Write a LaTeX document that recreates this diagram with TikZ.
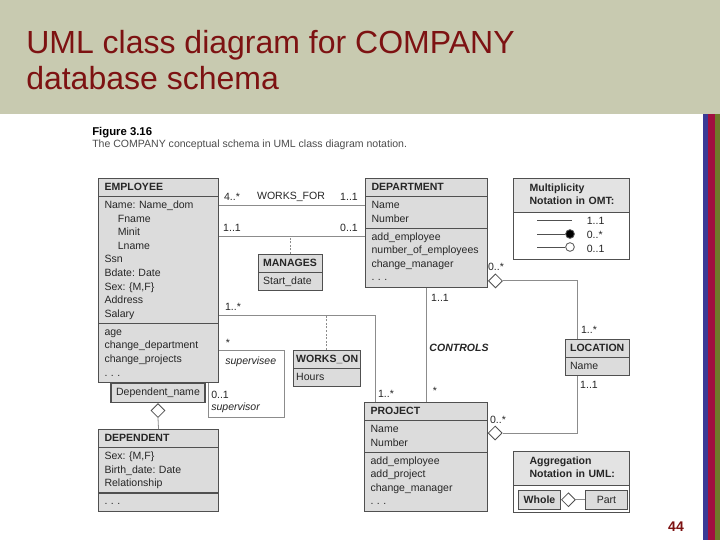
\documentclass[tikz,border=0pt]{standalone}
\usepackage{fontspec}
\setmainfont{Liberation Sans}
\usetikzlibrary{shapes.multipart,shapes.geometric,calc}
\frenchspacing

\definecolor{lista}{RGB}{200,202,176}
\definecolor{nadpis}{RGB}{125,18,18}
\definecolor{sedabox}{RGB}{220,220,220}
\definecolor{ramka}{RGB}{80,80,80}
\definecolor{cara}{RGB}{140,140,140}
\definecolor{pruhA}{RGB}{58,58,150}
\definecolor{pruhB}{RGB}{160,16,64}
\definecolor{pruhC}{RGB}{110,122,42}

\begin{document}
\begin{tikzpicture}[x=0.75pt, y=-0.75pt,
		trida/.style={rectangle split, rectangle split parts=3, draw=ramka, fill=sedabox, line width=0.8pt, inner xsep=4.5pt, inner ysep=1.3pt, align=left, anchor=north west, text=black!85, font=\fontsize{7.9}{10.2}\selectfont},
		malatrida/.style={trida, rectangle split parts=2, inner xsep=3.4pt},
		legenda/.style={rectangle split, rectangle split parts=2, draw=ramka, line width=0.8pt, rectangle split part fill={sedabox!80!white,white}, inner xsep=6pt, inner ysep=2pt, text width=75pt, align=left, anchor=north west, text=black!85, font=\fontsize{7.9}{10.2}\selectfont},
		kvalif/.style={draw=ramka, fill=sedabox, line width=0.8pt, inner sep=0pt, minimum width=70.5pt, minimum height=14.25pt, anchor=north, text=black!85, font=\fontsize{7.9}{10.2}\selectfont},
		kosoctverec/.style={diamond, draw=ramka, fill=white, line width=0.6pt, inner sep=0pt, minimum width=10.5pt, minimum height=10.5pt},
		bod/.style={circle, draw=ramka, line width=0.6pt, inner sep=0pt, minimum size=6.5pt},
		spoj/.style={draw=cara, line width=0.6pt},
		carky/.style={dash pattern=on 1.5pt off 1.2pt},
		popis/.style={inner sep=0pt, text=black!85, font=\fontsize{7.9}{10.2}\selectfont}]
		\useasboundingbox (0,0) rectangle (720,540);
		\fill[white] (0,0) rectangle (720,540);
		\fill[lista] (0,0) rectangle (720,114);
		\fill[pruhA] (703,114) rectangle (708,540);
		\fill[pruhB] (708,114) rectangle (715,540);
		\fill[pruhC] (715,114) rectangle (720,540);

		\node[anchor=north west, align=left, inner sep=0pt, text=nadpis, font=\fontsize{24}{27}\selectfont] (nadpis) at (26,30) {UML class diagram for COMPANY\\database schema};
		\node[anchor=base west, inner sep=0pt, font=\fontsize{8.5}{10}\selectfont\bfseries] (obr) at (92,135) {Figure 3.16};
		\node[anchor=base west, inner sep=0pt, text=black!70, font=\fontsize{7.9}{10}\selectfont] (obrpopis) at (92,147) {The COMPANY conceptual schema in UML class diagram notation.};
		\node[inner sep=0pt, text=nadpis, font=\fontsize{10.5}{12}\selectfont\bfseries] (strana) at (676,527) {44};

		\node[trida, text width=81pt] (emp) at (98,178) {\strut\textbf{EMPLOYEE}
			\nodepart{two}\strut Name: Name\_dom\\ \hspace*{10pt}Fname\\ \hspace*{10pt}Minit\\ \hspace*{10pt}Lname\\ Ssn\\ Bdate: Date\\ Sex: \{M,F\}\\ Address\\ Salary\strut
			\nodepart{three}\strut age\\ change\_department\\ change\_projects\\ . . .\strut};
		\node[trida, text width=82.5pt] (dept) at (365,178) {\strut\textbf{DEPARTMENT}
			\nodepart{two}\strut Name\\ Number\strut
			\nodepart{three}\strut add\_employee\\ number\_of\_employees\\ change\_manager\\ . . .\strut};
		\node[trida, text width=83pt] (proj) at (364,402) {\strut\textbf{PROJECT}
			\nodepart{two}\strut Name\\ Number\strut
			\nodepart{three}\strut add\_employee\\ add\_project\\ change\_manager\\ . . .\strut};
		\node[trida, text width=81pt] (dep) at (98,429) {\strut\textbf{DEPENDENT}
			\nodepart{two}\strut Sex: \{M,F\}\\ Birth\_date: Date\\ Relationship\strut
			\nodepart{three}\strut . . .};
		\node[malatrida, text width=41pt] (man) at (258,254) {\strut\textbf{MANAGES}\nodepart{two}\strut Start\_date};
		\node[malatrida, inner xsep=2pt, text width=46pt] (won) at (293,350) {\strut\textbf{WORKS\_ON}\nodepart{two}\strut Hours};
		\node[malatrida, text width=41.2pt] (loc) at (565,339) {\strut\textbf{LOCATION}\nodepart{two}\strut Name};

		\node[kvalif] (kval) at ($(emp.south west)+(60,0)$) {Dependent\_name};
		\node[kosoctverec, anchor=north] (kdep) at (kval.south) {};
		\node[kosoctverec, anchor=west] (kdept) at ($(dept.south east)+(0,-7)$) {};
		\node[kosoctverec, anchor=west] (kproj) at ($(proj.north east)+(0,31)$) {};

		\coordinate (wfzac) at ($(emp.north east)+(0,27)$);
		\coordinate (manzac) at ($(emp.north east)+(0,58)$);
		\coordinate (wonzac) at ($(emp.north east)+(0,137)$);
		\coordinate (supzac) at ($(emp.north east)+(0,172)$);
		\coordinate (lochore) at ($(loc.north west)+(12,0)$);
		\coordinate (locdole) at ($(loc.south west)+(12,0)$);

		\draw[spoj] (wfzac) -- (wfzac -| dept.west);
		\draw[spoj] (manzac) -- (manzac -| dept.west);
		\draw[spoj, carky] (man.north) -- (man.north |- manzac);
		\draw[spoj] (kdep.south) -- (dep.north);
		\draw[spoj] ($(dept.south west)+(61,0)$) -- ($(proj.north west)+(62,0)$);
		\draw[spoj] (kdept.east) -| (lochore);
		\draw[spoj] (locdole) |- (kproj.east);
		\draw[spoj] (wonzac) -| ($(proj.north west)+(11,0)$);
		\draw[spoj, carky] (won.north) -- (won.north |- wonzac);
		\draw[spoj] (supzac) -| ($(emp.south west)+(186,34)$) -| ($(emp.south west)+(110,0)$);

		\node[popis] (wfa) at (232,197) {4..*};
		\node[popis] (wfn) at (291,197) {WORKS\_FOR};
		\node[popis] (wfb) at (349,197) {1..1};
		\node[popis] (mana) at (232,228) {1..1};
		\node[popis] (manb) at (349,228) {0..1};
		\node[popis] (kdepta) at (496,267) {0..*};
		\node[popis] (ctla) at (440,298) {1..1};
		\node[popis, font=\fontsize{7.9}{10.2}\selectfont\bfseries\itshape] (ctl) at (459,348) {CONTROLS};
		\node[popis] (ctlb) at (435,391) {*};
		\node[popis] (loca) at (589,330) {1..*};
		\node[popis] (locb) at (589,385) {1..1};
		\node[popis] (kproja) at (498,420) {0..*};
		\node[popis] (wona) at (233,307) {1..*};
		\node[popis] (wonb) at (386,394) {1..*};
		\node[popis] (supa) at (228,343) {*};
		\node[popis, anchor=west, font=\fontsize{7.9}{10.2}\selectfont\itshape] (supb) at (225,362) {supervisee};
		\node[popis, anchor=west] (supc) at (211,395) {0..1};
		\node[popis, anchor=west, font=\fontsize{7.9}{10.2}\selectfont\itshape] (supd) at (211,408) {supervisor};

		\node[legenda] (omt) at (513,178) {\strut\hspace*{6pt}\textbf{Multiplicity}\\ \hspace*{6pt}\textbf{Notation in OMT:}\strut
			\nodepart{two}\strut\hspace*{49pt}1..1\\ \hspace*{49pt}0..*\\ \hspace*{49pt}0..1\strut};
		\coordinate (omta) at ($(omt.north west)+(24,42)$);
		\coordinate (omtb) at ($(omt.north west)+(59,42)$);
		\node[bod, fill=black] (plny) at ($(omt.north west)+(57,56)$) {};
		\node[bod, fill=white] (prazdny) at ($(omt.north west)+(57,69)$) {};
		\draw[ramka, line width=0.6pt] (omta) -- (omtb);
		\draw[ramka, line width=0.6pt] (plny.west -| omta) -- (plny.west);
		\draw[ramka, line width=0.6pt] (prazdny.west -| omta) -- (prazdny.west);

		\node[legenda] (agg) at (513,451) {\strut\hspace*{6pt}\textbf{Aggregation}\\ \hspace*{6pt}\textbf{Notation in UML:}\strut
			\nodepart{two}\rule{0pt}{15.5pt}};
		\node[kvalif, anchor=west, minimum width=31.5pt, font=\fontsize{7.9}{10.2}\selectfont\bfseries] (celek) at ($(agg.south west)+(5,-13)$) {Whole};
		\node[kosoctverec, anchor=west] (kcelek) at (celek.east) {};
		\node[kvalif, anchor=west, minimum width=31.5pt] (cast) at ($(kcelek.east)+(9,0)$) {Part};
		\draw[spoj] (kcelek.east) -- (cast.west);
	\end{tikzpicture}
\end{document}
